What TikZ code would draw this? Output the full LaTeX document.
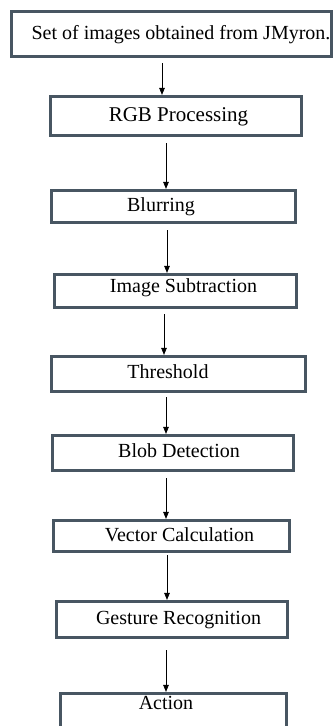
\documentclass[tikz,border=0pt]{standalone}
\usepackage{fontspec}
\setmainfont{Liberation Serif}
\usetikzlibrary{arrows.meta}
\definecolor{bordercol}{RGB}{72,86,98}
\tikzset{
  box/.style={draw=bordercol, line width=2.6pt, fill=white, inner sep=0pt},
  lab/.style={inner sep=0pt, text height=0.69em, text depth=0.22em, font=\fontsize{20}{24}\selectfont},
  arr/.style={line width=0.9pt, draw=black, -{Triangle[width=5.5pt,length=7pt]}}
}
\begin{document}
\begin{tikzpicture}[x=1pt,y=-1pt]
\useasboundingbox (0,0) rectangle (336,726);
\clip (0,0) rectangle (336,726);
\node[box, minimum width=320.5pt, minimum height=45.5pt,
  label={[lab, xshift=9.5pt, yshift=-3pt]center:Set of images obtained from JMyron.}] (b1) at (171.5,34) {};
\node[box, minimum width=251.5pt, minimum height=39.5pt,
  label={[lab, font=\fontsize{21}{25}\selectfont, xshift=2.5pt, yshift=-3.3pt]center:RGB Processing}] (b2) at (176,116) {};
\node[box, minimum width=244.5pt, minimum height=32.5pt,
  label={[lab, xshift=-12.5pt, yshift=-2.8pt]center:Blurring}] (b3) at (173.5,206.5) {};
\node[box, minimum width=242.5pt, minimum height=33.5pt,
  label={[lab, xshift=8pt, yshift=0.7pt]center:Image Subtraction}] (b4) at (175.5,291) {};
\node[box, minimum width=254.5pt, minimum height=35.5pt,
  label={[lab, xshift=-10.5pt, yshift=-2.3pt]center:Threshold}] (b5) at (178.5,374) {};
\node[box, minimum width=241.5pt, minimum height=35.5pt,
  label={[lab, xshift=6pt, yshift=-2.3pt]center:Blob Detection}] (b6) at (173,453) {};
\node[box, minimum width=236.5pt, minimum height=31.5pt,
  label={[lab, xshift=8pt, yshift=-3.3pt]center:Vector Calculation}] (b7) at (171.5,536) {};
\node[box, minimum width=231.5pt, minimum height=36.5pt,
  label={[lab, xshift=6.5pt, yshift=-2.8pt]center:Gesture Recognition}] (b8) at (172,619.5) {};
\node[box, minimum width=226.5pt, minimum height=50.5pt,
  label={[lab, xshift=-7.5pt, yshift=11.2pt]center:Action}] (b9) at (173.5,718.5) {};
\draw[arr] ([shift={(-9.5pt,-5pt)}]b1.south) -- ([xshift=-14pt]b2.north);
\draw[arr] ([shift={(-10pt,-6pt)}]b2.south) -- ([xshift=-7.5pt]b3.north);
\draw[arr] ([shift={(-6.5pt,-6pt)}]b3.south) -- ([xshift=-8.5pt]b4.north);
\draw[arr] ([shift={(-11.5pt,-5pt)}]b4.south) -- ([xshift=-14.5pt]b5.north);
\draw[arr] ([shift={(-12.5pt,-4pt)}]b5.south) -- ([xshift=-7pt]b6.north);
\draw[arr] ([shift={(-7pt,-6pt)}]b6.south) -- ([xshift=-5.5pt]b7.north);
\draw[arr] ([shift={(-4.5pt,-2pt)}]b7.south) -- ([xshift=-5pt]b8.north);
\draw[arr] ([shift={(-6pt,-11pt)}]b8.south) -- ([xshift=-7.5pt]b9.north);
\end{tikzpicture}
\end{document}
